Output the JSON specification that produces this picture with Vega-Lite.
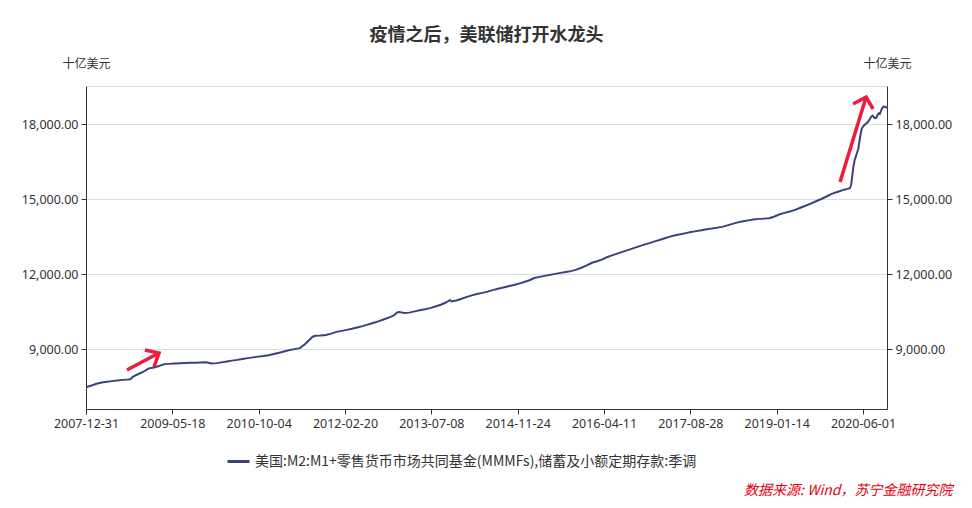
{
  "$schema": "https://vega.github.io/schema/vega-lite/v6.json",
  "width": 801,
  "height": 323,
  "autosize": {"type": "none"},
  "padding": {"left": 86, "top": 86, "right": 85, "bottom": 99},
  "background": "white",
  "config": {"view": {"stroke": "#dddddd"}, "font": "Noto Sans CJK SC"},
  "title": {"text": "疫情之后，美联储打开水龙头", "fontSize": 18, "fontWeight": "bold", "color": "#333333", "anchor": "middle", "offset": 12, "font": "Noto Sans CJK SC"},
  "datasets": {
    "m2": [
      {"date": "2007-12-31", "value": 7470},
      {"date": "2008-02-01", "value": 7540},
      {"date": "2008-03-01", "value": 7610},
      {"date": "2008-04-01", "value": 7660},
      {"date": "2008-05-01", "value": 7690},
      {"date": "2008-06-01", "value": 7715},
      {"date": "2008-07-01", "value": 7740},
      {"date": "2008-08-01", "value": 7765},
      {"date": "2008-09-01", "value": 7780},
      {"date": "2008-09-15", "value": 7790},
      {"date": "2008-10-01", "value": 7900},
      {"date": "2008-11-01", "value": 8000},
      {"date": "2008-12-01", "value": 8095},
      {"date": "2009-01-01", "value": 8225},
      {"date": "2009-02-01", "value": 8260},
      {"date": "2009-03-01", "value": 8320},
      {"date": "2009-04-01", "value": 8395},
      {"date": "2009-05-01", "value": 8405},
      {"date": "2009-06-01", "value": 8418},
      {"date": "2009-07-01", "value": 8430},
      {"date": "2009-08-01", "value": 8438},
      {"date": "2009-09-01", "value": 8446},
      {"date": "2009-10-01", "value": 8453},
      {"date": "2009-11-01", "value": 8461},
      {"date": "2009-12-01", "value": 8470},
      {"date": "2010-01-01", "value": 8425},
      {"date": "2010-02-01", "value": 8435},
      {"date": "2010-03-01", "value": 8465},
      {"date": "2010-04-01", "value": 8500},
      {"date": "2010-05-01", "value": 8535},
      {"date": "2010-06-01", "value": 8565},
      {"date": "2010-07-01", "value": 8600},
      {"date": "2010-08-01", "value": 8635},
      {"date": "2010-09-01", "value": 8665},
      {"date": "2010-10-01", "value": 8695},
      {"date": "2010-11-01", "value": 8720},
      {"date": "2010-12-01", "value": 8750},
      {"date": "2011-01-01", "value": 8800},
      {"date": "2011-02-01", "value": 8850},
      {"date": "2011-03-01", "value": 8900},
      {"date": "2011-04-01", "value": 8955},
      {"date": "2011-05-01", "value": 8995},
      {"date": "2011-06-01", "value": 9035},
      {"date": "2011-07-01", "value": 9190},
      {"date": "2011-08-01", "value": 9400},
      {"date": "2011-08-15", "value": 9490},
      {"date": "2011-09-01", "value": 9530},
      {"date": "2011-10-01", "value": 9540},
      {"date": "2011-11-01", "value": 9560},
      {"date": "2011-12-01", "value": 9615},
      {"date": "2012-01-01", "value": 9685},
      {"date": "2012-02-01", "value": 9725},
      {"date": "2012-03-01", "value": 9765},
      {"date": "2012-04-01", "value": 9810},
      {"date": "2012-05-01", "value": 9860},
      {"date": "2012-06-01", "value": 9915},
      {"date": "2012-07-01", "value": 9975},
      {"date": "2012-08-01", "value": 10040},
      {"date": "2012-09-01", "value": 10105},
      {"date": "2012-10-01", "value": 10180},
      {"date": "2012-11-01", "value": 10255},
      {"date": "2012-12-01", "value": 10340},
      {"date": "2012-12-20", "value": 10460},
      {"date": "2013-01-01", "value": 10480},
      {"date": "2013-02-01", "value": 10440},
      {"date": "2013-03-01", "value": 10455},
      {"date": "2013-04-01", "value": 10505},
      {"date": "2013-05-01", "value": 10550},
      {"date": "2013-06-01", "value": 10590},
      {"date": "2013-07-01", "value": 10635},
      {"date": "2013-08-01", "value": 10700},
      {"date": "2013-09-01", "value": 10770},
      {"date": "2013-10-01", "value": 10860},
      {"date": "2013-10-25", "value": 10960},
      {"date": "2013-11-01", "value": 10900},
      {"date": "2013-12-01", "value": 10940},
      {"date": "2014-01-01", "value": 11010},
      {"date": "2014-02-01", "value": 11085},
      {"date": "2014-03-01", "value": 11145},
      {"date": "2014-04-01", "value": 11200},
      {"date": "2014-05-01", "value": 11245},
      {"date": "2014-06-01", "value": 11295},
      {"date": "2014-07-01", "value": 11355},
      {"date": "2014-08-01", "value": 11410},
      {"date": "2014-09-01", "value": 11460},
      {"date": "2014-10-01", "value": 11510},
      {"date": "2014-11-01", "value": 11560},
      {"date": "2014-12-01", "value": 11615},
      {"date": "2015-01-01", "value": 11680},
      {"date": "2015-02-01", "value": 11750},
      {"date": "2015-03-01", "value": 11840},
      {"date": "2015-04-01", "value": 11885},
      {"date": "2015-05-01", "value": 11925},
      {"date": "2015-06-01", "value": 11965},
      {"date": "2015-07-01", "value": 12005},
      {"date": "2015-08-01", "value": 12045},
      {"date": "2015-09-01", "value": 12080},
      {"date": "2015-10-01", "value": 12115},
      {"date": "2015-11-01", "value": 12175},
      {"date": "2015-12-01", "value": 12250},
      {"date": "2016-01-01", "value": 12345},
      {"date": "2016-02-01", "value": 12450},
      {"date": "2016-03-01", "value": 12510},
      {"date": "2016-04-01", "value": 12585},
      {"date": "2016-05-01", "value": 12680},
      {"date": "2016-06-01", "value": 12755},
      {"date": "2016-07-01", "value": 12825},
      {"date": "2016-08-01", "value": 12895},
      {"date": "2016-09-01", "value": 12965},
      {"date": "2016-10-01", "value": 13035},
      {"date": "2016-11-01", "value": 13105},
      {"date": "2016-12-01", "value": 13175},
      {"date": "2017-01-01", "value": 13235},
      {"date": "2017-02-01", "value": 13305},
      {"date": "2017-03-01", "value": 13360},
      {"date": "2017-04-01", "value": 13430},
      {"date": "2017-05-01", "value": 13495},
      {"date": "2017-06-01", "value": 13550},
      {"date": "2017-07-01", "value": 13590},
      {"date": "2017-08-01", "value": 13635},
      {"date": "2017-09-01", "value": 13680},
      {"date": "2017-10-01", "value": 13715},
      {"date": "2017-11-01", "value": 13750},
      {"date": "2017-12-01", "value": 13790},
      {"date": "2018-01-01", "value": 13820},
      {"date": "2018-02-01", "value": 13855},
      {"date": "2018-03-01", "value": 13885},
      {"date": "2018-04-01", "value": 13945},
      {"date": "2018-05-01", "value": 14005},
      {"date": "2018-06-01", "value": 14065},
      {"date": "2018-07-01", "value": 14110},
      {"date": "2018-08-01", "value": 14145},
      {"date": "2018-09-01", "value": 14180},
      {"date": "2018-10-01", "value": 14205},
      {"date": "2018-11-01", "value": 14215},
      {"date": "2018-12-01", "value": 14230},
      {"date": "2019-01-01", "value": 14300},
      {"date": "2019-02-01", "value": 14390},
      {"date": "2019-03-01", "value": 14445},
      {"date": "2019-04-01", "value": 14500},
      {"date": "2019-05-01", "value": 14565},
      {"date": "2019-06-01", "value": 14650},
      {"date": "2019-07-01", "value": 14730},
      {"date": "2019-08-01", "value": 14815},
      {"date": "2019-09-01", "value": 14910},
      {"date": "2019-10-01", "value": 15000},
      {"date": "2019-11-01", "value": 15100},
      {"date": "2019-12-01", "value": 15205},
      {"date": "2020-01-06", "value": 15290},
      {"date": "2020-01-20", "value": 15320},
      {"date": "2020-02-03", "value": 15355},
      {"date": "2020-02-17", "value": 15380},
      {"date": "2020-03-02", "value": 15405},
      {"date": "2020-03-09", "value": 15420},
      {"date": "2020-03-16", "value": 15430},
      {"date": "2020-03-23", "value": 15550},
      {"date": "2020-03-30", "value": 15900},
      {"date": "2020-04-06", "value": 16300},
      {"date": "2020-04-13", "value": 16550},
      {"date": "2020-04-20", "value": 16700},
      {"date": "2020-04-27", "value": 16850},
      {"date": "2020-05-04", "value": 17000},
      {"date": "2020-05-11", "value": 17300},
      {"date": "2020-05-18", "value": 17600},
      {"date": "2020-05-25", "value": 17820},
      {"date": "2020-06-01", "value": 17900},
      {"date": "2020-06-08", "value": 17950},
      {"date": "2020-06-15", "value": 18000},
      {"date": "2020-06-22", "value": 18030},
      {"date": "2020-06-29", "value": 18080},
      {"date": "2020-07-06", "value": 18150},
      {"date": "2020-07-13", "value": 18230},
      {"date": "2020-07-20", "value": 18300},
      {"date": "2020-07-27", "value": 18330},
      {"date": "2020-08-03", "value": 18280},
      {"date": "2020-08-10", "value": 18230},
      {"date": "2020-08-17", "value": 18240},
      {"date": "2020-08-24", "value": 18350},
      {"date": "2020-08-31", "value": 18420},
      {"date": "2020-09-07", "value": 18400},
      {"date": "2020-09-14", "value": 18530},
      {"date": "2020-09-21", "value": 18640},
      {"date": "2020-09-28", "value": 18690},
      {"date": "2020-10-05", "value": 18700},
      {"date": "2020-10-12", "value": 18680},
      {"date": "2020-10-19", "value": 18640}
    ],
    "arrows": [
      {"seg": "a1s", "ord": 0, "date": "2008-08-26", "value": 8160},
      {"seg": "a1s", "ord": 1, "date": "2009-03-01", "value": 8840},
      {"seg": "a1h", "ord": 0, "date": "2008-12-09", "value": 8960},
      {"seg": "a1h", "ord": 1, "date": "2009-03-01", "value": 8840},
      {"seg": "a1h", "ord": 2, "date": "2009-01-31", "value": 8280},
      {"seg": "a2s", "ord": 0, "date": "2020-01-19", "value": 15680},
      {"seg": "a2s", "ord": 1, "date": "2020-06-19", "value": 19080},
      {"seg": "a2h", "ord": 0, "date": "2020-04-04", "value": 18800},
      {"seg": "a2h", "ord": 1, "date": "2020-06-19", "value": 19080},
      {"seg": "a2h", "ord": 2, "date": "2020-07-30", "value": 18600}
    ]
  },
  "encoding": {
    "x": {
      "field": "date",
      "type": "temporal",
      "scale": {"type": "utc", "domain": [{"year": 2007, "month": 12, "date": 31, "utc": true}, {"year": 2020, "month": 10, "date": 19, "utc": true}]},
      "axis": {
        "values": [
          {"year": 2007, "month": 12, "date": 31, "utc": true},
          {"year": 2009, "month": 5, "date": 18, "utc": true},
          {"year": 2010, "month": 10, "date": 4, "utc": true},
          {"year": 2012, "month": 2, "date": 20, "utc": true},
          {"year": 2013, "month": 7, "date": 8, "utc": true},
          {"year": 2014, "month": 11, "date": 24, "utc": true},
          {"year": 2016, "month": 4, "date": 11, "utc": true},
          {"year": 2017, "month": 8, "date": 28, "utc": true},
          {"year": 2019, "month": 1, "date": 14, "utc": true},
          {"year": 2020, "month": 6, "date": 1, "utc": true}
        ],
        "labelExpr": "utcFormat(datum.value, '%Y-%m-%d')",
        "grid": false,
        "domainColor": "#333333",
        "tickColor": "#333333",
        "tickSize": 5,
        "labelColor": "#333333",
        "labelFontSize": 12.5,
        "labelFont": "Noto Sans",
        "labelPadding": 3,
        "labelAngle": 0,
        "labelOverlap": false,
        "labelFlush": false,
        "title": "数据来源: Wind，苏宁金融研究院",
        "titleColor": "#e60012",
        "titleFontStyle": "italic",
        "titleFontWeight": "normal",
        "titleFontSize": 14,
        "titleFont": "Noto Sans CJK SC",
        "titleX": 866,
        "titleY": 81,
        "titleAlign": "right",
        "titleBaseline": "middle"
      }
    },
    "y": {
      "field": "value",
      "type": "quantitative",
      "scale": {"domain": [6600, 19520], "zero": false, "nice": false},
      "axis": {
        "orient": "left",
        "values": [9000, 12000, 15000, 18000],
        "format": ",.2f",
        "grid": true,
        "gridColor": "#dddddd",
        "domainColor": "#333333",
        "tickColor": "#333333",
        "tickSize": 5,
        "labelColor": "#333333",
        "labelFontSize": 12.5,
        "labelFont": "Noto Sans",
        "labelPadding": 3,
        "title": "十亿美元",
        "titleAngle": 0,
        "titleX": 0,
        "titleY": -23,
        "titleAlign": "center",
        "titleBaseline": "middle",
        "titleFontWeight": "normal",
        "titleFontSize": 12,
        "titleColor": "#333333",
        "titleFont": "Noto Sans CJK SC"
      }
    }
  },
  "layer": [
    {
      "data": {"name": "m2"},
      "mark": {"type": "line", "strokeWidth": 2},
      "encoding": {
        "color": {
          "datum": "美国:M2:M1+零售货币市场共同基金(MMMFs),储蓄及小额定期存款:季调",
          "scale": {"range": ["#39437a"]},
          "legend": {
            "orient": "none",
            "legendX": 140,
            "legendY": 363,
            "title": null,
            "symbolType": "stroke",
            "symbolSize": 484,
            "symbolStrokeWidth": 3,
            "labelFontSize": 14,
            "labelColor": "#333333",
            "labelFont": "Noto Sans CJK SC",
            "labelLimit": 800,
            "padding": 0
          }
        }
      }
    },
    {
      "data": {"name": "arrows"},
      "mark": {"type": "line", "color": "#ee1b3b", "strokeWidth": 3.5, "strokeCap": "butt", "strokeJoin": "miter"},
      "encoding": {
        "y": {
          "field": "value",
          "type": "quantitative",
          "scale": {"domain": [6600, 19520], "zero": false, "nice": false},
          "axis": {
            "orient": "right",
            "values": [9000, 12000, 15000, 18000],
            "format": ",.2f",
            "grid": false,
            "domainColor": "#333333",
            "tickColor": "#333333",
            "tickSize": 5,
            "labelColor": "#333333",
            "labelFontSize": 12.5,
            "labelFont": "Noto Sans",
            "labelPadding": 3,
            "title": "十亿美元",
            "titleAngle": 0,
            "titleX": 0,
            "titleY": -23,
            "titleAlign": "center",
            "titleBaseline": "middle",
            "titleFontWeight": "normal",
            "titleFontSize": 12,
            "titleColor": "#333333",
            "titleFont": "Noto Sans CJK SC"
          }
        },
        "detail": {"field": "seg"},
        "order": {"field": "ord"}
      }
    }
  ],
  "resolve": {"axis": {"y": "independent"}}
}
